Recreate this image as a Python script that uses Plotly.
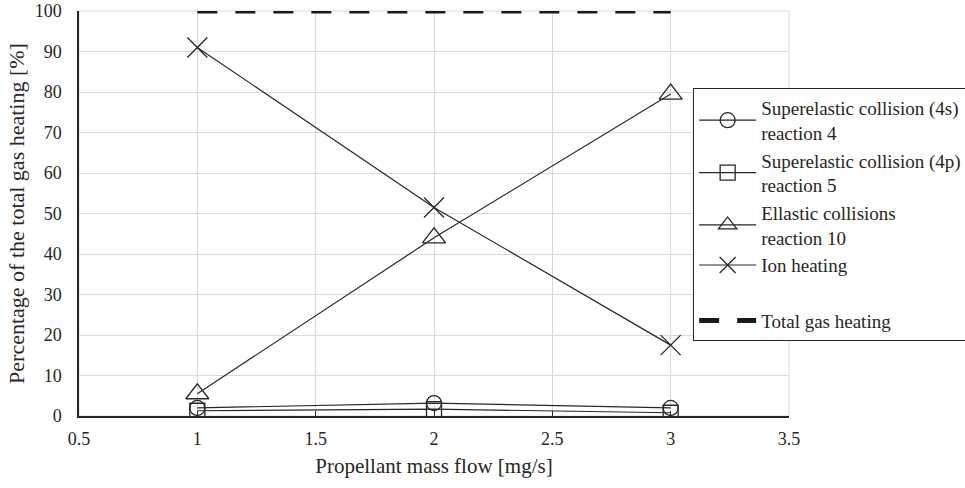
import plotly.graph_objects as go

flow = [1, 2, 3]
superelastic_4s = [2.0, 3.2, 2.0]
superelastic_4p = [1.3, 1.7, 0.8]
elastic = [5.5, 44.0, 79.5]
ion_heating = [91.0, 51.5, 17.5]
total = [100, 100, 100]

names = [
    "Superelastic collision (4s)<br>reaction 4",
    "Superelastic collision (4p)<br>reaction 5",
    "Ellastic collisions<br>reaction 10",
    "Ion heating",
    "Total gas heating",
]

LINE = "#262626"
FONT = "Liberation Serif, Times New Roman, DejaVu Serif, serif"

fig = go.Figure()
series = [
    (superelastic_4s, "circle-open", 15),
    (superelastic_4p, "square-open", 15),
    (elastic, "triangle-up-open", 20),
    (ion_heating, "x-thin-open", 20),
]
for (vals, sym, size), name in zip(series, names[:4]):
    fig.add_trace(go.Scatter(
        x=flow, y=vals, name=name, mode="lines+markers",
        line=dict(color=LINE, width=1.2),
        marker=dict(symbol=sym, size=size, color=LINE, line=dict(width=1.3, color=LINE)),
    ))

# spacer entry in legend
fig.add_trace(go.Scatter(
    x=[None], y=[None], name="<span style='font-size:12px'>&nbsp;</span>", mode="lines",
    line=dict(color="rgba(0,0,0,0)", width=1), hoverinfo="skip",
))

fig.add_trace(go.Scatter(
    x=flow, y=total, name=names[4], mode="lines",
    line=dict(color="#1a1a1a", width=5, dash="20px,18px"),
))

fig.update_layout(
    width=965, height=488,
    margin=dict(l=79, r=176, t=11, b=72, autoexpand=False),
    paper_bgcolor="white", plot_bgcolor="white",
    font=dict(family=FONT, size=18, color="#262626"),
    showlegend=True,
    legend=dict(
        x=0.865, y=0.81, xanchor="left", yanchor="top",
        bgcolor="white", bordercolor="#262626", borderwidth=1,
        font=dict(family=FONT, size=19, color="#262626"),
        itemwidth=57, tracegroupgap=4,
    ),
    xaxis=dict(
        range=[0.5, 3.5], dtick=0.5, tick0=0.5,
        showgrid=True, gridcolor="#d9d9d9", gridwidth=1,
        showline=True, linecolor="#262626", linewidth=1.5,
        ticks="inside", ticklen=5, tickcolor="#262626",
        tickfont=dict(family=FONT, size=18),
        ticklabelstandoff=6,
        title=dict(text="Propellant mass flow [mg/s]", font=dict(family=FONT, size=21), standoff=10),
        zeroline=False, mirror=False,
    ),
    yaxis=dict(
        range=[0, 100], dtick=10,
        showgrid=True, gridcolor="#d9d9d9", gridwidth=1,
        showline=True, linecolor="#262626", linewidth=1.5,
        ticks="", tickfont=dict(family=FONT, size=18),
        ticklabelstandoff=12,
        title=dict(text="Percentage of the total gas heating [%]", font=dict(family=FONT, size=22), standoff=4),
        zeroline=False,
    ),
)
# light grey frame on the top/right edges like the gridlines
fig.add_shape(type="rect", xref="paper", yref="paper", x0=0, y0=0, x1=1, y1=1,
              line=dict(color="#d9d9d9", width=1), layer="below")

fig.write_html("out.html")
